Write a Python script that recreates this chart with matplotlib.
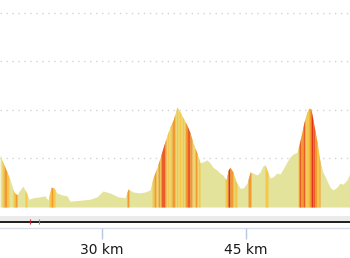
import numpy as np
import matplotlib
matplotlib.use("Agg")
import matplotlib.pyplot as plt

# Elevation profile (distance km, elevation m)
distance_km = [19.38, 19.79, 20.10, 20.42, 20.83, 21.15, 21.46, 21.77, 22.08, 22.40,
               22.81, 23.54, 24.06, 24.38, 24.69, 25.00, 25.31, 25.83, 26.35, 26.67,
               27.71, 28.75, 29.48, 30.10, 30.83, 31.67, 32.40, 32.71, 33.23, 33.96,
               34.48, 35.00, 35.31, 35.73, 36.04, 36.35, 36.77, 37.08, 37.40, 37.81,
               38.13, 38.44, 38.85, 39.17, 39.48, 39.90, 40.21, 40.52, 40.94, 41.25,
               41.56, 41.98, 42.29, 42.60, 42.92, 43.13, 43.33, 43.65, 43.96, 44.38,
               44.69, 45.10, 45.42, 45.73, 46.15, 46.46, 46.77, 46.98, 47.19, 47.50,
               47.81, 48.23, 48.54, 48.85, 49.27, 49.58, 49.90, 50.31, 50.52, 50.83,
               51.04, 51.35, 51.56, 51.77, 51.98, 52.40, 52.71, 53.02, 53.44, 53.75,
               54.06, 54.48, 54.79, 55.10, 55.52, 55.83]
elevation_m = [107, 87, 72, 56, 31, 25, 35, 43, 31, 16,
               19, 21, 23, 14, 41, 39, 29, 25, 23, 12,
               14, 16, 21, 33, 29, 21, 19, 37, 31, 29,
               31, 35, 60, 82, 101, 122, 148, 165, 179, 206,
               196, 184, 169, 153, 132, 111, 91, 93, 97, 91,
               82, 76, 70, 66, 56, 76, 82, 72, 52, 39,
               39, 49, 72, 70, 66, 72, 85, 87, 76, 60,
               62, 70, 68, 78, 93, 103, 109, 113, 128, 155,
               175, 196, 204, 202, 179, 134, 93, 72, 54, 41,
               35, 41, 49, 47, 56, 70]

# Gradient-coloured stripes: (start km, end km, gradient class)
stripe_start = [19.58, 19.79, 20.10, 20.73, 20.94, 21.98, 24.48, 24.69, 24.90, 32.60,
                35.21, 35.42, 35.63, 35.83, 36.04, 36.15, 36.56, 36.77, 37.08, 37.29,
                37.71, 38.02, 38.33, 38.65, 38.85, 39.17, 39.48, 39.69, 40.00,
                42.81, 43.02, 43.13, 43.33, 43.75, 45.21, 46.98,
                50.42, 50.52, 50.73, 50.94, 51.15, 51.25, 51.56, 51.77, 51.98, 52.19,
                52.40, 52.60]
stripe_end = [19.79, 20.10, 20.31, 20.94, 21.15, 22.19, 24.69, 24.90, 25.10, 32.81,
              35.42, 35.63, 35.73, 36.04, 36.15, 36.56, 36.67, 36.98, 37.29, 37.60,
              37.92, 38.23, 38.54, 38.85, 39.17, 39.38, 39.58, 39.90, 40.21,
              43.02, 43.13, 43.33, 43.65, 44.06, 45.52, 47.29,
              50.52, 50.73, 50.94, 51.15, 51.25, 51.56, 51.77, 51.98, 52.19, 52.40,
              52.60, 52.71]
stripe_class = [1, 2, 1, 1, 2, 1, 1, 2, 1, 2,
                1, 2, 1, 2, 1, 3, 2, 1, 1, 2,
                1, 1, 1, 2, 3, 2, 1, 2, 1,
                1, 2, 4, 2, 1, 2, 1,
                1, 3, 2, 3, 1, 1, 2, 4, 3, 2,
                1, 2]

tick_km = [30, 45]
tick_labels = ["30 km", "45 km"]
grid_levels = [0, 100, 200, 300, 400]

base_color = "#e3e39c"
class_colors = {1: "#f5c84a", 2: "#f29a32", 3: "#ea5c28", 4: "#e0321e"}

W, H = 350, 258
fig = plt.figure(figsize=(W / 100, H / 100), dpi=100)
fig.patch.set_facecolor("white")

x0, x1 = 19.375, 55.833
ax = fig.add_axes([0, 1 - 207 / H, 1, 207 / H])
ax.set_xlim(x0, x1)
ax.set_ylim(0, 426.8)
ax.axis("off")

for g in grid_levels:
    ax.axhline(g, color="#d2d2d2", lw=1.0, linestyle=(0, (1, 3.3)), zorder=1)

d = np.array(distance_km)
e = np.array(elevation_m)
ax.fill_between(d, 0, e, color=base_color, lw=0, zorder=2)
for s, t, c in zip(stripe_start, stripe_end, stripe_class):
    xs = np.linspace(s, t, 8)
    ax.fill_between(xs, 0, np.interp(xs, d, e), color=class_colors[c], lw=0, zorder=3)

# bottom axis strip (pixel rows from top)
ax2 = fig.add_axes([0, 0, 1, 1 - 207 / H])
ax2.set_xlim(x0, x1)
ax2.set_ylim(258, 207)
ax2.axis("off")
ax2.axhspan(215.5, 220.5, color="#ebebeb", lw=0)
ax2.axhspan(220.5, 223.2, color="#222222", lw=0)
ax2.axhline(228, color="#d6dce8", lw=1.0)
ax2.vlines([22.5], 219, 223.5, color="#c0283a", lw=0.8)
ax2.vlines([23.45], 219, 223.5, color="#888888", lw=0.8)
ax2.vlines(tick_km, 228, 238.5, color="#b8c6de", lw=1.0)
for k, lab in zip(tick_km, tick_labels):
    ax2.text(k, 250, lab, ha="center", va="center", fontsize=10,
             color="#1a1a1a", family="DejaVu Sans")

fig.savefig("out.png", dpi=100)
